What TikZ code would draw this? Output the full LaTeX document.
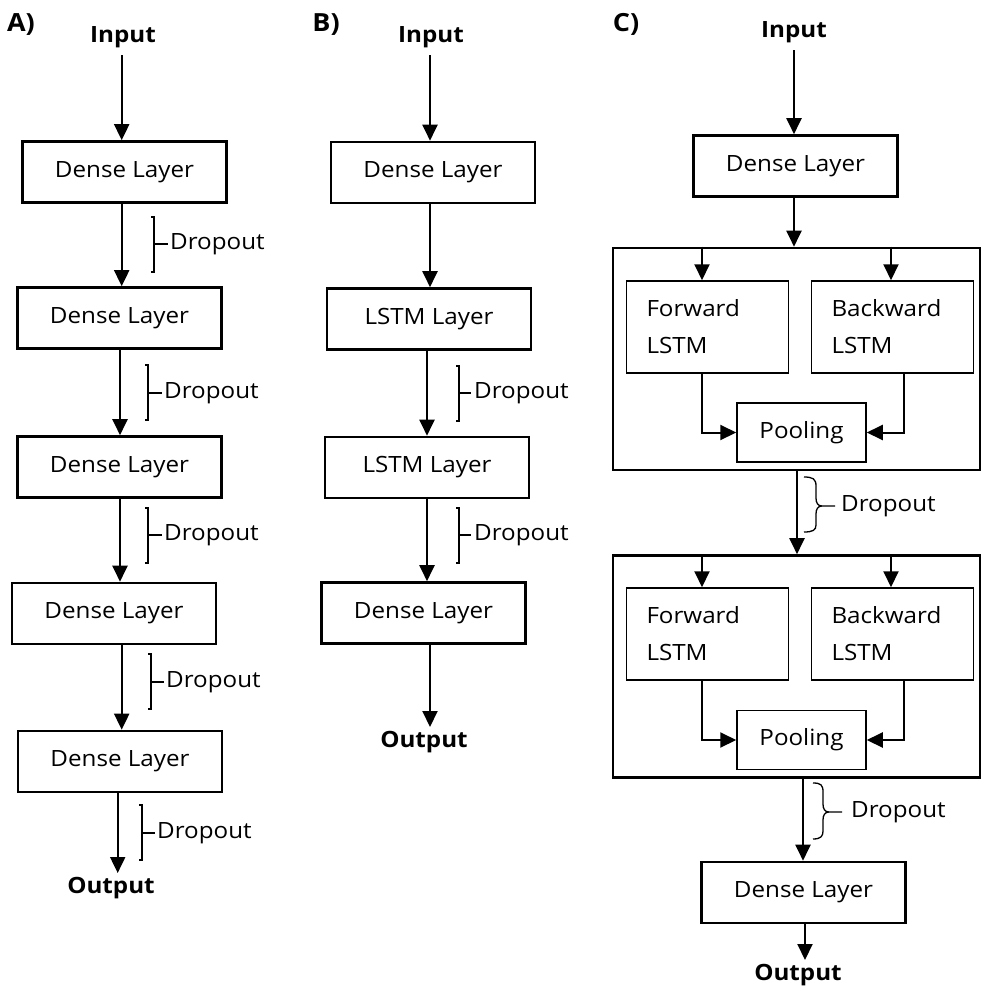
\documentclass[tikz,border=0pt]{standalone}
\usepackage{fontspec}
\setmainfont{Open Sans}[FakeStretch=1.08]
\usetikzlibrary{arrows.meta}
\newcommand\dgfont{\fontsize{22.4}{37}\selectfont}
\newcommand\lblfont{\fontsize{25}{30}\selectfont}
\begin{document}
\begin{tikzpicture}[x=1pt,y=-1pt,
  font=\dgfont,
  layer/.style={draw, line width=2.6pt, inner sep=0pt, minimum width=204pt, minimum height=61pt},
  outer/.style={draw, line width=2.6pt, inner sep=0pt, minimum width=367pt, minimum height=222pt},
  lstm/.style={draw, line width=1.5pt, inner xsep=20pt, inner ysep=0pt, text width=122pt, align=left, minimum height=92pt},
  pool/.style={draw, line width=1.5pt, inner sep=0pt, minimum width=129pt, minimum height=59pt},
  io/.style={font=\dgfont\bfseries, inner sep=0pt},
  lbl/.style={font=\lblfont\bfseries, inner sep=0pt},
  drop/.style={anchor=west, inner sep=0pt},
  arr/.style={line width=2pt, -{Triangle[width=15pt,length=16pt]}},
  brk/.style={line width=1.3pt},
  ]
\useasboundingbox (0,0) rectangle (982,986);

%%%%%%%%%%%%%%%% Panel A
\node[lbl] (labA) at (21,25) {A)};
\node[io] (inA) at (123,37) {Input};
\node[layer] (a1) at (124.5,172) {Dense Layer};
\node[layer] (a2) at (119.5,318) {Dense Layer};
\node[layer] (a3) at (119.5,467) {Dense Layer};
\node[layer] (a4) at (114,613.5) {Dense Layer};
\node[layer] (a5) at (120,761.5) {Dense Layer};
\node[io] (outA) at (111,888) {Output};

\coordinate (sA) at (121.7,55);
\coordinate (xA1) at (121.7,0);
\coordinate (xA2) at (120,0);
\coordinate (xA3) at (120,0);
\coordinate (xA4) at (121.7,0);
\coordinate (eA) at (117.7,873);
\draw[arr] (sA) -- (a1.north -| sA);
\draw[arr] (a1.south -| xA1) -- (a2.north -| xA1);
\draw[arr] (a2.south -| xA2) -- (a3.north -| xA2);
\draw[arr] (a3.south -| xA3) -- (a4.north -| xA3);
\draw[arr] (a4.south -| xA4) -- (a5.north -| xA4);
\draw[arr] (a5.south -| eA) -- (eA);

\draw[brk] (151,217) -- (154,217) -- (154,272) -- (151,272) (154,244) -- (168,244);
\node[drop] (dA1) at (170,244) {Dropout};
\draw[brk] (145,365) -- (148,365) -- (148,420) -- (145,420) (148,393) -- (162,393);
\node[drop] (dA2) at (164,393) {Dropout};
\draw[brk] (145,508) -- (148,508) -- (148,563) -- (145,563) (148,535) -- (162,535);
\node[drop] (dA3) at (164,535) {Dropout};
\draw[brk] (148,654) -- (151,654) -- (151,709) -- (148,709) (151,682) -- (164,682);
\node[drop] (dA4) at (166,682) {Dropout};
\draw[brk] (139,805) -- (142,805) -- (142,860) -- (139,860) (142,833) -- (155,833);
\node[drop] (dA5) at (157,833) {Dropout};

%%%%%%%%%%%%%%%% Panel B
\node[lbl] (labB) at (326,25) {B)};
\node[io] (inB) at (431,37) {Input};
\node[layer] (b1) at (433,172.5) {Dense Layer};
\node[layer] (b2) at (429,319) {LSTM Layer};
\node[layer] (b3) at (427,467.5) {LSTM Layer};
\node[layer] (b4) at (423.5,613) {Dense Layer};
\node[io] (outB) at (424,742) {Output};

\coordinate (sB) at (430,55);
\coordinate (xB1) at (430,0);
\coordinate (xB2) at (427,0);
\coordinate (xB3) at (427,0);
\coordinate (eB) at (430,727);
\draw[arr] (sB) -- (b1.north -| sB);
\draw[arr] (b1.south -| xB1) -- (b2.north -| xB1);
\draw[arr] (b2.south -| xB2) -- (b3.north -| xB2);
\draw[arr] (b3.south -| xB3) -- (b4.north -| xB3);
\draw[arr] (b4.south -| eB) -- (eB);

\draw[brk] (456,366) -- (459,366) -- (459,421) -- (456,421) (459,393) -- (471,393);
\node[drop] (dB1) at (474,393) {Dropout};
\draw[brk] (456,508) -- (459,508) -- (459,563) -- (456,563) (459,535) -- (471,535);
\node[drop] (dB2) at (474,535) {Dropout};

%%%%%%%%%%%%%%%% Panel C
\node[lbl] (labC) at (626,24) {C)};
\node[io] (inC) at (794,32) {Input};
\node[layer] (c1) at (795.5,166) {Dense Layer};

\node[outer] (big1) at (796.5,359) {};
\node[lstm] (f1) at (707.5,327) {Forward\\LSTM};
\node[lstm] (k1) at (892.5,327) {Backward\\LSTM};
\node[pool] (p1) at (801.5,432.5) {Pooling};

\node[outer] (big2) at (796.5,666.5) {};
\node[lstm] (f2) at (707.5,634) {Forward\\LSTM};
\node[lstm] (k2) at (892.5,634) {Backward\\LSTM};
\node[pool] (p2) at (801.5,740) {Pooling};

\node[layer] (c2) at (803.5,892.5) {Dense Layer};
\node[io] (outC) at (798,975) {Output};

\coordinate (sC) at (794,50);
\coordinate (xC1) at (794,0);
\coordinate (xC2) at (797,0);
\coordinate (xC3) at (803,0);
\coordinate (xF) at (702,0);
\coordinate (xK) at (891,0);
\coordinate (xKo) at (904,0);
\coordinate (eC) at (805,960);
\draw[arr] (sC) -- (c1.north -| sC);
\draw[arr] (c1.south -| xC1) -- (big1.north -| xC1);
\draw[arr] (big1.north -| xF) -- (f1.north -| xF);
\draw[arr] (big1.north -| xK) -- (k1.north -| xK);
\draw[arr] (f1.south -| xF) |- (p1.west);
\draw[arr] (k1.south -| xKo) |- (p1.east);
\draw[arr] (big1.south -| xC2) -- (big2.north -| xC2);
\draw[arr] (big2.north -| xF) -- (f2.north -| xF);
\draw[arr] (big2.north -| xK) -- (k2.north -| xK);
\draw[arr] (f2.south -| xF) |- (p2.west);
\draw[arr] (k2.south -| xKo) |- (p2.east);
\draw[arr] (big2.south -| xC3) -- (c2.north -| xC3);
\draw[arr] (c2.south -| eC) -- (eC);

\draw[brk] (804,477) .. controls (813,477) and (816,479) .. (816,486) -- (816,498)
  .. controls (816,503) and (818,506) .. (822,506)
  .. controls (818,506) and (816,509) .. (816,514) -- (816,525)
  .. controls (816,530) and (813,532) .. (804,532)
  (822,506) -- (835,506);
\node[drop] (dC1) at (841,506) {Dropout};
\draw[brk] (813,783) .. controls (821,783) and (823,785) .. (823,792) -- (823,804)
  .. controls (823,809) and (825,812) .. (829,812)
  .. controls (825,812) and (823,815) .. (823,820) -- (823,831)
  .. controls (823,836) and (821,839) .. (813,839)
  (829,812) -- (842,812);
\node[drop] (dC2) at (851,812) {Dropout};
\end{tikzpicture}
\end{document}
